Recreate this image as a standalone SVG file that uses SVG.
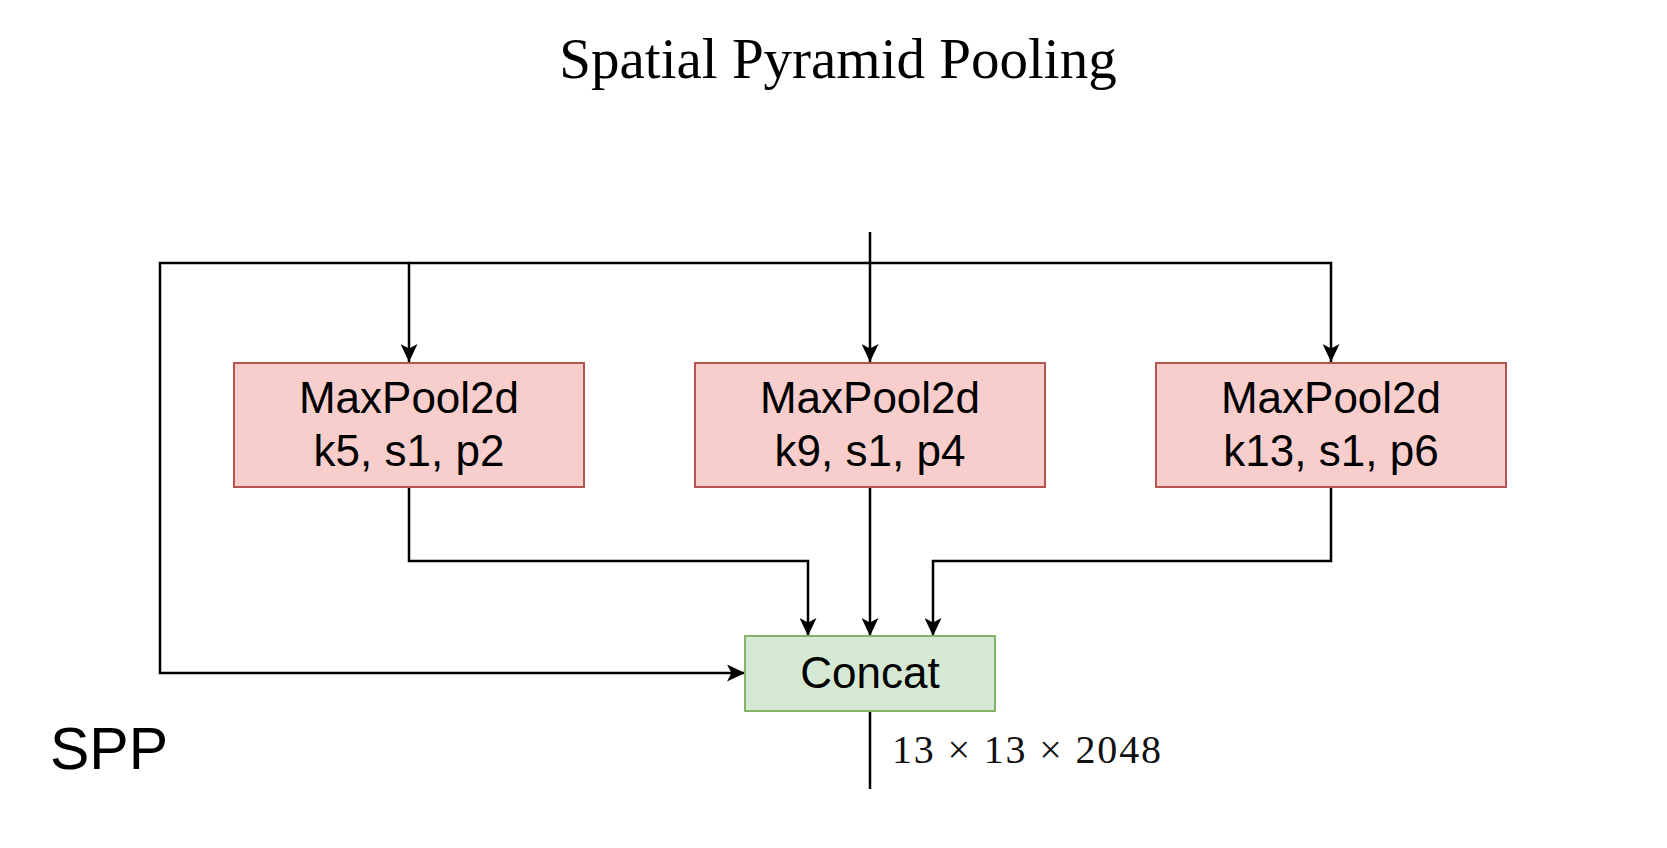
<svg xmlns="http://www.w3.org/2000/svg" width="1667" height="848" viewBox="0 0 1667 848">
  <defs>
    <marker id="arrow" viewBox="0 0 18 17" refX="18" refY="8.5" markerWidth="18" markerHeight="17" markerUnits="userSpaceOnUse" orient="auto">
      <path d="M0,0 L18,8.5 L0,17 L4.5,8.5 z" fill="#000"/>
    </marker>
    <style>
      .pool { fill: #f8cecc; stroke: #b85450; stroke-width: 2; }
      .cat { fill: #d5e8d4; stroke: #82b366; stroke-width: 2; }
      .lbl { font-family: "Liberation Sans", Arial, sans-serif; font-size: 44px; fill: #000; text-anchor: middle; }
      .edge { fill: none; stroke: #000; stroke-width: 2.5; }
      .arr { marker-end: url(#arrow); }
    </style>
  </defs>
  <rect width="1667" height="848" fill="#ffffff"/>
  <text x="838" y="78" font-family="Liberation Serif, 'Times New Roman', serif" font-size="57" text-anchor="middle" fill="#000">Spatial Pyramid Pooling</text>

  <g id="connectors">
    <path class="edge arr" d="M870,232 V362"/>
    <path class="edge arr" d="M870,263 H409 V362"/>
    <path class="edge arr" d="M870,263 H1331 V362"/>
    <path class="edge arr" d="M409,263 H160 V673 H745"/>
    <path class="edge arr" d="M409,487 V561 H808 V636"/>
    <path class="edge arr" d="M870,487 V636"/>
    <path class="edge arr" d="M1331,487 V561 H933 V636"/>
    <path class="edge" d="M870,711 V789"/>
  </g>

  <g id="pool1">
    <rect class="pool" x="234" y="363" width="350" height="124"/>
    <text class="lbl" x="409" y="413">MaxPool2d</text>
    <text class="lbl" x="409" y="466">k5, s1, p2</text>
  </g>
  <g id="pool2">
    <rect class="pool" x="695" y="363" width="350" height="124"/>
    <text class="lbl" x="870" y="413">MaxPool2d</text>
    <text class="lbl" x="870" y="466">k9, s1, p4</text>
  </g>
  <g id="pool3">
    <rect class="pool" x="1156" y="363" width="350" height="124"/>
    <text class="lbl" x="1331" y="413">MaxPool2d</text>
    <text class="lbl" x="1331" y="466">k13, s1, p6</text>
  </g>
  <g id="concat">
    <rect class="cat" x="745" y="636" width="250" height="75"/>
    <text class="lbl" x="870" y="688">Concat</text>
  </g>

  <text id="shape-label" x="892" y="763" font-family="Liberation Serif, 'Times New Roman', serif" font-size="40" fill="#111" textLength="269" lengthAdjust="spacing">13 × 13 × 2048</text>
  <text id="spp" x="50" y="769" font-family="Liberation Sans, Arial, sans-serif" font-size="59" fill="#000">SPP</text>
</svg>
